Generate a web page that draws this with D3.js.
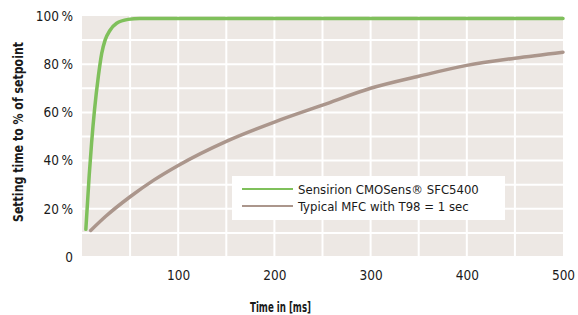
<!DOCTYPE html>
<html>
<head>
<meta charset="utf-8">
<script src="https://cdn.jsdelivr.net/npm/d3@7"></script>
<style>
  body { margin: 0; background: #fff; }
  text { font-family: "Liberation Sans Narrow", "DejaVu Sans Condensed", sans-serif; }
</style>
</head>
<body>
<div id="chart"></div>
<script>
// Sizing
const svgWidth = 578,
  svgHeight = 315;
const margin = { left: 82, top: 16, right: 15, bottom: 58 };
const plotWidth = svgWidth - margin.left - margin.right,
  plotHeight = svgHeight - margin.top - margin.bottom;

// Colouring
const bgColor = "#ede8e4";
const gridColor = "#ffffff";
const textColor = "#1a1a1a";
const seriesColors = ["#7fc05b", "#ab968c"];

// Content
const seriesNames = ["Sensirion CMOSens® SFC5400", "Typical MFC with T98 = 1 sec"];
const xTicks = [100, 200, 300, 400, 500];
const yTicks = [0, 20, 40, 60, 80, 100];
const xAxisTitle = "Time in [ms]";
const yAxisTitle = "Setting time to % of setpoint";

// Data (time in ms, % of setpoint)
const sfcTime = [4, 7.5, 10, 13, 17, 20.5, 24, 29, 36, 48, 60, 500];
const sfcValue = [11.5, 34, 47.5, 61, 75, 84.5, 90, 94, 97, 98.6, 99, 99];
const mfcTime = [9, 25, 50, 75, 100, 150, 200, 250, 300, 350, 400, 450, 500];
const mfcValue = [11, 17, 25, 32, 38, 48, 56, 63, 70, 75, 79.5, 82.5, 85];

const svg = d3.select("#chart").append("svg")
  .attr("width", svgWidth)
  .attr("height", svgHeight);

const g = svg.append("g")
  .attr("transform", "translate(" + margin.left + "," + margin.top + ")");

const x = d3.scaleLinear().domain([0, 500]).range([0, plotWidth]);
const y = d3.scaleLinear().domain([0, 100]).range([plotHeight, 0]);

// background + grid
g.append("rect")
  .attr("width", plotWidth)
  .attr("height", plotHeight - 1)
  .attr("fill", bgColor);

g.append("g")
  .selectAll("line")
  .data(d3.range(50, 500, 50))
  .enter().append("line")
  .attr("x1", d => x(d)).attr("x2", d => x(d))
  .attr("y1", 0).attr("y2", plotHeight - 1)
  .attr("stroke", gridColor)
  .attr("stroke-width", 2);

g.append("g")
  .selectAll("line")
  .data(d3.range(10, 100, 10))
  .enter().append("line")
  .attr("x1", 0).attr("x2", plotWidth)
  .attr("y1", d => y(d)).attr("y2", d => y(d))
  .attr("stroke", gridColor)
  .attr("stroke-width", 2);

// axes (labels only)
const xAxis = g.append("g")
  .attr("transform", "translate(0," + plotHeight + ")")
  .call(d3.axisBottom(x).tickValues(xTicks).tickSize(0).tickPadding(13));
const yAxis = g.append("g")
  .call(d3.axisLeft(y).tickValues(yTicks).tickSize(0).tickPadding(9)
    .tickFormat(d => d === 0 ? "0" : d + "\u2009%"));

[xAxis, yAxis].forEach(a => {
  a.select(".domain").remove();
  a.selectAll("text")
    .style("font-family", "'Liberation Sans Narrow', 'DejaVu Sans Condensed', sans-serif")
    .style("font-size", "13.5px")
    .attr("fill", textColor);
});

// lines
const line = d3.line()
  .x(d => x(d[0]))
  .y(d => y(d[1]))
  .curve(d3.curveMonotoneX);

g.append("path")
  .datum(mfcTime.map((t, i) => [t, mfcValue[i]]))
  .attr("d", line)
  .attr("fill", "none")
  .attr("stroke", seriesColors[1])
  .attr("stroke-width", 3.5)
  .attr("stroke-linecap", "round");

g.append("path")
  .datum(sfcTime.map((t, i) => [t, sfcValue[i]]))
  .attr("d", line)
  .attr("fill", "none")
  .attr("stroke", seriesColors[0])
  .attr("stroke-width", 3.5)
  .attr("stroke-linecap", "round");

// legend
const legend = svg.append("g").attr("transform", "translate(232,176)");
legend.append("rect")
  .attr("width", 273)
  .attr("height", 44)
  .attr("fill", "#ffffff");

const item = legend.selectAll(".item")
  .data(seriesNames)
  .enter().append("g")
  .attr("transform", (d, i) => "translate(0," + (13 + i * 17) + ")");

item.append("line")
  .attr("x1", 10).attr("x2", 61)
  .attr("stroke", (d, i) => seriesColors[i])
  .attr("stroke-width", 2);

item.append("text")
  .attr("x", 66)
  .attr("dy", "0.35em")
  .style("font-size", "13px")
  .attr("fill", textColor)
  .text(d => d);

// titles
svg.append("text")
  .attr("x", 250)
  .attr("y", 312)
  .attr("textLength", 61)
  .attr("lengthAdjust", "spacingAndGlyphs")
  .style("font-size", "13.5px")
  .style("font-weight", "bold")
  .attr("fill", textColor)
  .text(xAxisTitle);

svg.append("text")
  .attr("transform", "translate(23,222) rotate(-90)")
  .attr("textLength", 180)
  .attr("lengthAdjust", "spacingAndGlyphs")
  .style("font-size", "13.5px")
  .style("font-weight", "bold")
  .attr("fill", textColor)
  .text(yAxisTitle);
</script>
</body>
</html>
